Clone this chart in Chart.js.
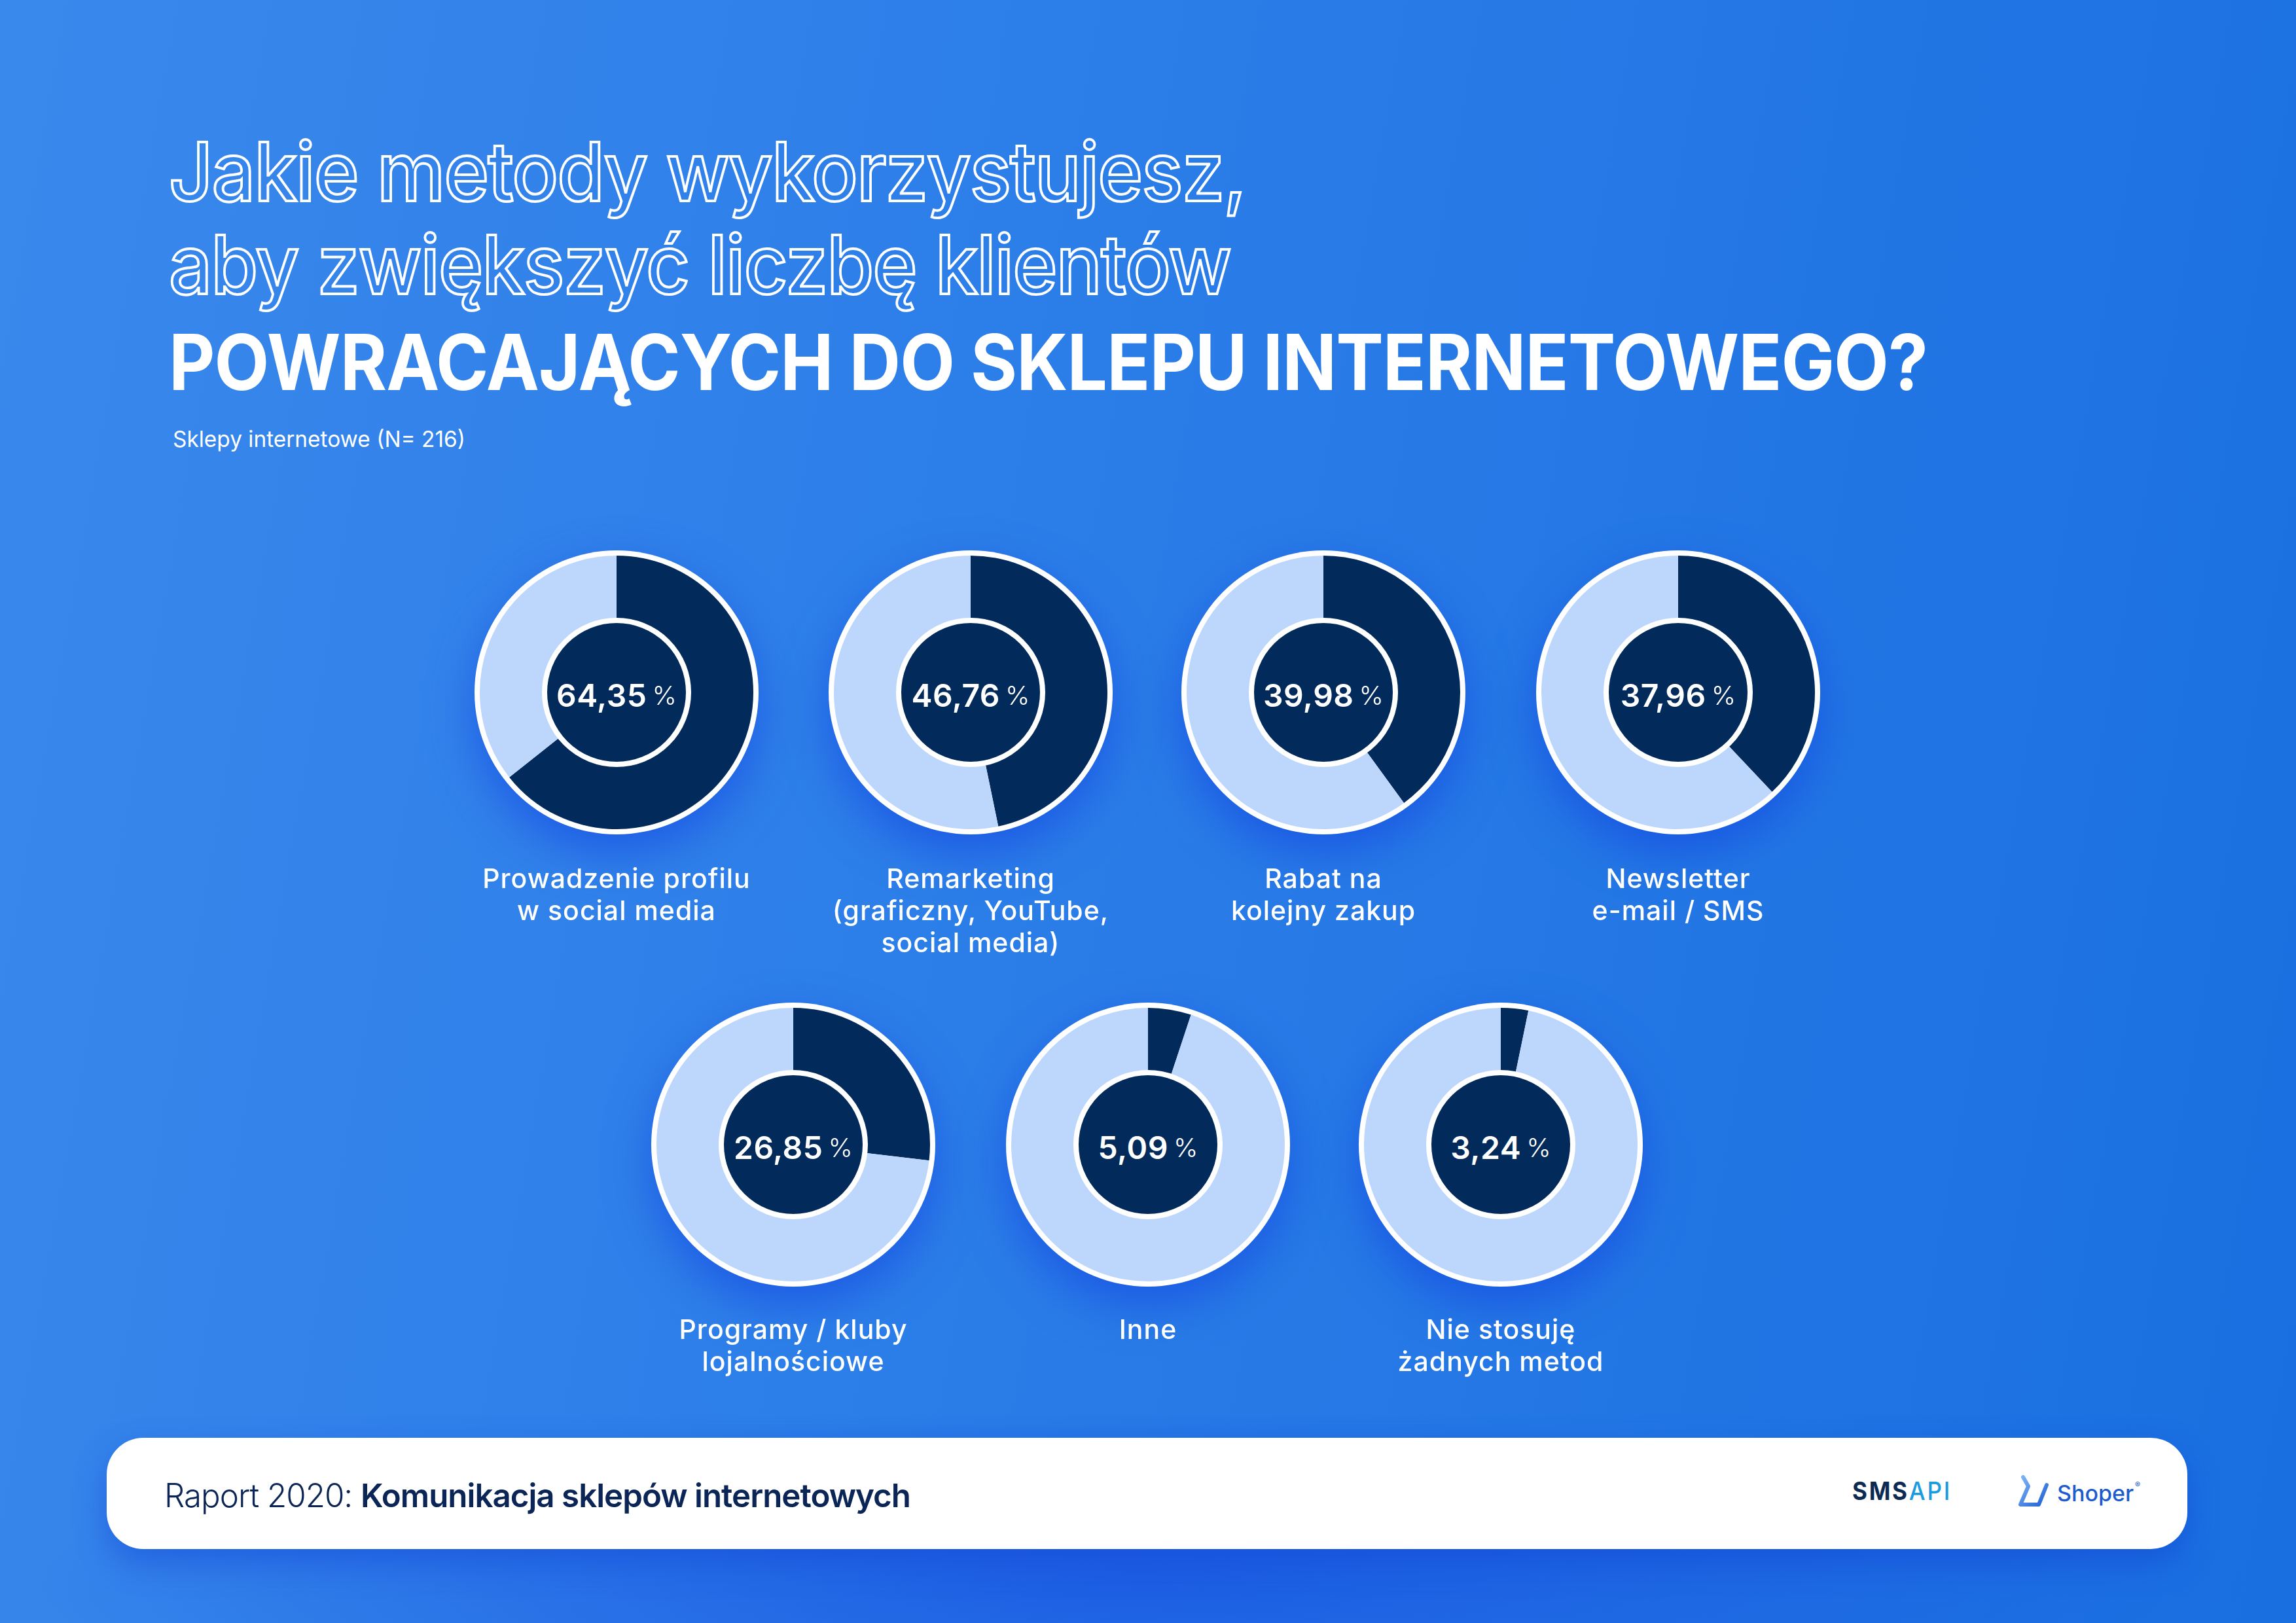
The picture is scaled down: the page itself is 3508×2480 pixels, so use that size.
<!DOCTYPE html>
<html lang="pl">
<head>
<meta charset="utf-8">
<title>Metody zwiększania liczby klientów powracających</title>
<script src="https://cdn.jsdelivr.net/npm/chart.js@4.4.1/dist/chart.umd.min.js"></script>
<style>
  html, body { margin: 0; padding: 0; }
  body {
    width: 3508px; height: 2480px; overflow: hidden; position: relative;
    font-family: Inter, "Noto Sans", sans-serif;
    background:
      radial-gradient(ellipse 1700px 260px at 1750px 2420px, rgba(20, 70, 225, 0.55), rgba(20, 70, 225, 0) 100%),
      linear-gradient(100deg, #3988ec 0%, #2b7de8 45%, #1a6fe0 100%);
  }
  .line { position: absolute; left: 258px; white-space: nowrap; transform-origin: 0 50%; }
  .outline { font-weight: 500; font-size: 124px; line-height: 1; color: transparent; -webkit-text-stroke: 4px #fff; letter-spacing: -2px; }
  .solid { font-weight: 700; font-size: 118px; line-height: 1; color: #fff; letter-spacing: -1px; }
  .sub { position: absolute; left: 264px; top: 650px; font-size: 34px; color: #fff; white-space: nowrap; transform-origin: 0 50%; }
  .donut { position: absolute; width: 434px; height: 434px; filter: drop-shadow(0 28px 34px rgba(18, 68, 225, 0.6)); }
  .donut canvas { position: absolute; left: 0; top: 0; }
  .center {
    position: absolute; left: 103px; top: 103px; width: 212px; height: 212px;
    border: 8px solid #fff; border-radius: 50%; background: #022a5b;
    display: flex; align-items: center; justify-content: center; color: #fff;
    padding-top: 8px; box-sizing: content-box;
  }
  .center b { font-weight: 600; font-size: 48px; letter-spacing: 0.5px; }
  .center span { font-weight: 300; font-size: 40px; margin-left: 8px; }
  .label {
    position: absolute; width: 600px; text-align: center; color: #fff;
    font-size: 41px; font-weight: 500; line-height: 49px; letter-spacing: 1px;
  }
  .footer {
    position: absolute; left: 163px; top: 2197px; width: 3179px; height: 170px;
    background: #fff; border-radius: 56px; box-shadow: 0 20px 50px rgba(15, 60, 210, 0.45);
  }
  .ftext { position: absolute; left: 88px; top: 58px; font-size: 50px; color: #0a2556; white-space: nowrap; transform-origin: 0 50%; letter-spacing: -1px; }
  .ftext .light { font-weight: 300; }
  .ftext .bold { font-weight: 600; }
  .sms { position: absolute; left: 2667px; top: 62px; font-size: 38px; line-height: 1; font-weight: 700; letter-spacing: 3px; color: #0c2a52; white-space: nowrap; transform-origin: 0 50%; }
  .sms i { font-style: normal; color: #1b9be0; font-weight: 500; }
  .shoper { position: absolute; left: 2918px; top: 56px; width: 56px; height: 50px; }
  .shoperText { position: absolute; left: 2980px; top: 64px; font-size: 34px; font-weight: 500; color: #1d5ccf; }
  .shoperText sup { font-size: 12px; vertical-align: top; margin-left: 2px; }
</style>
</head>
<body>
<div class="line outline" id="t1" style="top:200px">Jakie metody wykorzystujesz,</div>
<div class="line outline" id="t2" style="top:342px">aby zwiększyć liczbę klientów</div>
<div class="line solid" id="t3" style="top:494px">POWRACAJĄCYCH DO SKLEPU INTERNETOWEGO?</div>
<div class="sub" id="sub">Sklepy internetowe (N= 216)</div>

<div id="charts"></div>

<div class="footer">
  <div class="ftext" id="ftext"><span class="light">Raport 2020: </span><span class="bold">Komunikacja sklepów internetowych</span></div>
  <div class="sms" id="sms">SMS<i>API</i></div>
  <svg class="shoper" viewBox="0 0 56 50">
    <defs><linearGradient id="sg" x1="0" y1="0" x2="1" y2="1"><stop offset="0" stop-color="#7fb6f5"/><stop offset="1" stop-color="#1f5fd6"/></linearGradient></defs>
    <path d="M10 4 L18 18 L6 46 L34 46 L46 16" fill="none" stroke="url(#sg)" stroke-width="6" stroke-linecap="round" stroke-linejoin="round"/>
  </svg>
  <div class="shoperText">Shoper<sup>®</sup></div>
</div>

<script>
const categories = [
  ['Prowadzenie profilu', 'w social media'],
  ['Remarketing', '(graficzny, YouTube,', 'social media)'],
  ['Rabat na', 'kolejny zakup'],
  ['Newsletter', 'e-mail / SMS'],
  ['Programy / kluby', 'lojalnościowe'],
  ['Inne'],
  ['Nie stosuję', 'żadnych metod'],
];
const values = [64.35, 46.76, 39.98, 37.96, 26.85, 5.09, 3.24];
const valueLabels = ['64,35', '46,76', '39,98', '37,96', '26,85', '5,09', '3,24'];

const NAVY = '#022a5b';
const LIGHT = '#bdd7fc';

// centres of the donuts on the page, row by row
const layout = [
  { x: 942, y: 1058, labelTop: 1318 },
  { x: 1483, y: 1058, labelTop: 1318 },
  { x: 2022, y: 1058, labelTop: 1318 },
  { x: 2564, y: 1058, labelTop: 1318 },
  { x: 1212, y: 1749, labelTop: 2007 },
  { x: 1754, y: 1749, labelTop: 2007 },
  { x: 2293, y: 1749, labelTop: 2007 },
];

const whiteRing = {
  id: 'whiteRing',
  beforeDatasetsDraw(chart) {
    const arc = chart.getDatasetMeta(0).data[0];
    if (!arc) return;
    const ctx = chart.ctx;
    ctx.save();
    ctx.beginPath();
    ctx.arc(arc.x, arc.y, arc.outerRadius + 8, 0, Math.PI * 2);
    ctx.fillStyle = '#fff';
    ctx.fill();
    ctx.restore();
  },
};

const host = document.getElementById('charts');

categories.forEach((lines, i) => {
  const pos = layout[i];
  const wrap = document.createElement('div');
  wrap.className = 'donut';
  wrap.style.left = (pos.x - 217) + 'px';
  wrap.style.top = (pos.y - 217) + 'px';
  const canvas = document.createElement('canvas');
  canvas.width = 434;
  canvas.height = 434;
  canvas.style.width = '434px';
  canvas.style.height = '434px';
  wrap.appendChild(canvas);

  const center = document.createElement('div');
  center.className = 'center';
  center.style.height = '204px';
  center.innerHTML = `<b>${valueLabels[i]}</b><span>%</span>`;
  wrap.appendChild(center);
  host.appendChild(wrap);

  const label = document.createElement('div');
  label.className = 'label';
  label.style.left = (pos.x - 300) + 'px';
  label.style.top = pos.labelTop + 'px';
  label.innerHTML = lines.join('<br>');
  host.appendChild(label);

  new Chart(canvas, {
    type: 'doughnut',
    data: {
      labels: [lines.join(' '), 'Pozostałe'],
      datasets: [{
        data: [values[i], 100 - values[i]],
        backgroundColor: [NAVY, LIGHT],
        borderWidth: 0,
      }],
    },
    options: {
      responsive: false,
      animation: false,
      events: [],
      cutout: '50%',
      layout: { padding: 8 },
      plugins: { legend: { display: false }, tooltip: { enabled: false } },
    },
    plugins: [whiteRing],
  });
});

// squeeze text lines to the widths they take in the original
function fitWidth(id, target) {
  const el = document.getElementById(id);
  const w = el.getBoundingClientRect().width;
  if (w > 0) el.style.transform = `scaleX(${target / w})`;
}
fitWidth('t1', 1645);
fitWidth('t2', 1622);
fitWidth('t3', 2687);
fitWidth('sub', 447);
fitWidth('ftext', 1140);
fitWidth('sms', 152);
</script>
</body>
</html>
